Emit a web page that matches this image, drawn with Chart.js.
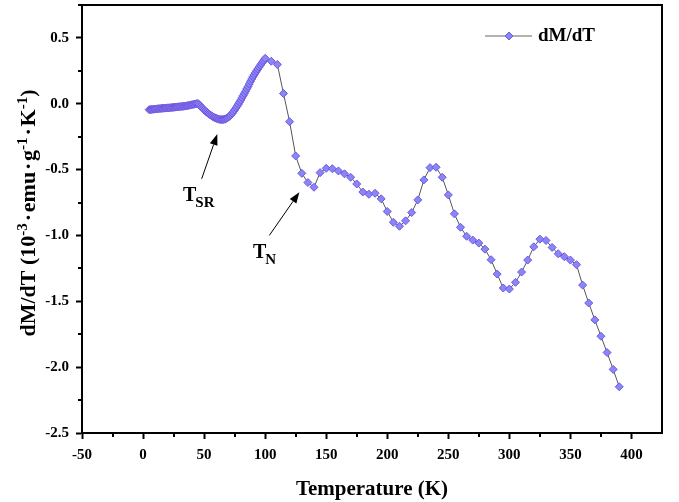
<!DOCTYPE html>
<html>
<head>
<meta charset="utf-8">
<script src="https://cdn.jsdelivr.net/npm/chart.js@4/dist/chart.umd.min.js"></script>
<style>
  html, body { margin: 0; padding: 0; background: #fff; }
  canvas { display: block; }
</style>
</head>
<body>
<canvas id="chart" width="679" height="502"></canvas>
<script>
// temperature (K)
const temps = [
  5, 6, 7, 8, 9, 10, 11, 12, 13, 14, 15, 16, 17, 18, 19, 20, 21, 22, 23, 24,
  25, 26, 27, 28, 29, 30, 31, 32, 33, 34, 35, 36, 37, 38, 39, 40, 41, 42, 43, 44,
  45, 46, 47, 48, 49, 50, 51, 52, 53, 54, 55, 56, 57, 58, 59, 60, 61, 62, 63, 64,
  65, 66, 67, 68, 69, 70, 71, 72, 73, 74, 75, 76, 77, 78, 79, 80, 81, 82, 83, 84,
  85, 86, 87, 88, 89, 90, 91, 92, 93, 94, 95, 96, 97, 98, 99,
  100, 105, 110, 115, 120, 125, 130, 135, 140, 145, 150, 155, 160, 165, 170, 175,
  180, 185, 190, 195, 200, 205, 210, 215, 220, 225, 230, 235, 240, 245, 250, 255,
  260, 265, 270, 275, 280, 285, 290, 295, 300, 305, 310, 315, 320, 325, 330, 335,
  340, 345, 350, 355, 360, 365, 370, 375, 380, 385, 390
];
// dM/dT (10^-3 emu g^-1 K^-1)
const dMdT = [
  -0.045, -0.044, -0.043, -0.042, -0.041, -0.040, -0.039, -0.038, -0.037, -0.036,
  -0.035, -0.034, -0.034, -0.033, -0.032, -0.031, -0.031, -0.030, -0.029, -0.028,
  -0.027, -0.026, -0.025, -0.024, -0.023, -0.022, -0.021, -0.020, -0.019, -0.018,
  -0.017, -0.015, -0.013, -0.011, -0.009, -0.007, -0.005, -0.003, -0.001, 0.001,
  0.002, -0.008, -0.018, -0.028, -0.037, -0.046, -0.055, -0.063, -0.071, -0.078,
  -0.085, -0.091, -0.097, -0.102, -0.107, -0.111, -0.114, -0.117, -0.119, -0.120,
  -0.120, -0.119, -0.117, -0.113, -0.108, -0.101, -0.093, -0.083, -0.072, -0.060,
  -0.047, -0.033, -0.019, -0.004, 0.012, 0.028, 0.045, 0.062, 0.079, 0.096,
  0.114, 0.131, 0.150, 0.170, 0.188, 0.205, 0.220, 0.235, 0.250, 0.264,
  0.278, 0.292, 0.305, 0.317, 0.330,
  0.345, 0.323, 0.298, 0.078, -0.136, -0.396, -0.528, -0.598, -0.634, -0.523,
  -0.490, -0.493, -0.510, -0.532, -0.558, -0.609, -0.670, -0.687, -0.680, -0.722,
  -0.818, -0.900, -0.930, -0.889, -0.826, -0.730, -0.578, -0.485, -0.482, -0.558,
  -0.692, -0.836, -0.938, -1.006, -1.035, -1.058, -1.104, -1.184, -1.293, -1.399,
  -1.407, -1.356, -1.278, -1.187, -1.086, -1.028, -1.038, -1.091, -1.139, -1.161,
  -1.187, -1.222, -1.377, -1.513, -1.641, -1.765, -1.889, -2.017, -2.149
];

const xTicks = [-50, 0, 50, 100, 150, 200, 250, 300, 350, 400];
const xMinor = [-25, 25, 75, 125, 175, 225, 275, 325, 375];
const yTicks = [-2.5, -2.0, -1.5, -1.0, -0.5, 0.0, 0.5];
const yMinor = [-2.25, -1.75, -1.25, -0.75, -0.25, 0.25, 0.75];

// annotation labels, in data units
const notes = [
  { main: 'T', sub: 'SR', at: [32.7, -0.735], from: [48.0, -0.570], to: [60.8, -0.230] },
  { main: 'T', sub: 'N', at: [90.0, -1.174], from: [103.4, -1.000], to: [128.0, -0.672] }
];

const SERIF = '"Liberation Serif", "Times New Roman", serif';
const FILL = '#8787fa';
const EDGE = '#7355dc';

const points = temps.map((t, i) => ({ x: t, y: dMdT[i] }));

function arrow(ctx, x1, y1, x2, y2) {
  const a = Math.atan2(y2 - y1, x2 - x1);
  const hl = 11, hw = 4;
  const bx = x2 - hl * Math.cos(a), by = y2 - hl * Math.sin(a);
  ctx.beginPath();
  ctx.moveTo(x1, y1);
  ctx.lineTo(bx, by);
  ctx.strokeStyle = '#000';
  ctx.lineWidth = 1;
  ctx.stroke();
  ctx.beginPath();
  ctx.moveTo(x2, y2);
  ctx.lineTo(bx + hw * Math.sin(a), by - hw * Math.cos(a));
  ctx.lineTo(bx - hw * Math.sin(a), by + hw * Math.cos(a));
  ctx.closePath();
  ctx.fillStyle = '#000';
  ctx.fill();
}

const extras = {
  id: 'extras',
  afterDraw(chart) {
    const ctx = chart.ctx;
    const { left, right, top, bottom } = chart.chartArea;
    const xs = chart.scales.x, ys = chart.scales.y;
    ctx.save();

    // frame
    ctx.strokeStyle = '#000';
    ctx.lineWidth = 2;
    ctx.strokeRect(left, top, right - left, bottom - top);

    // minor ticks
    ctx.beginPath();
    xMinor.forEach(v => {
      const px = Math.round(xs.getPixelForValue(v));
      ctx.moveTo(px, bottom); ctx.lineTo(px, bottom + 4);
    });
    yMinor.forEach(v => {
      const py = Math.round(ys.getPixelForValue(v));
      ctx.moveTo(left, py); ctx.lineTo(left - 4, py);
    });
    ctx.stroke();

    // x title
    ctx.fillStyle = '#000';
    ctx.font = 'bold 21px ' + SERIF;
    ctx.textAlign = 'center';
    ctx.textBaseline = 'alphabetic';
    ctx.fillText('Temperature (K)', (left + right) / 2, 495);

    // y title with superscripts; the middle dots get a wider slot
    const parts = [
      ['dM/dT (10', 0], ['-3', 1], ['\u00B7', 2], ['emu', 0], ['\u00B7', 2], ['g', 0],
      ['-1', 1], ['\u00B7', 2], ['K', 0], ['-1', 1], [')', 0]
    ];
    const big = 'bold 22px ' + SERIF, small = 'bold 15px ' + SERIF;
    const DOT = 11;
    const adv = p => {
      if (p[1] === 2) return DOT;
      ctx.font = p[1] ? small : big;
      return ctx.measureText(p[0]).width;
    };
    let total = 0;
    parts.forEach(p => { total += adv(p); });
    ctx.translate(35, 213);
    ctx.rotate(-Math.PI / 2);
    ctx.textAlign = 'left';
    let cx = -total / 2;
    parts.forEach(p => {
      const w = adv(p);
      if (p[1] === 2) {
        ctx.font = big;
        const dw = ctx.measureText(p[0]).width;
        ctx.fillText(p[0], cx + (w - dw) / 2, 0);
      } else {
        ctx.font = p[1] ? small : big;
        ctx.fillText(p[0], cx, p[1] ? -8 : 0);
      }
      cx += w;
    });
    ctx.setTransform(1, 0, 0, 1, 0, 0);

    // legend
    const ly = 36;
    ctx.beginPath();
    ctx.moveTo(485, ly); ctx.lineTo(532, ly);
    ctx.strokeStyle = '#666';
    ctx.lineWidth = 1;
    ctx.stroke();
    ctx.beginPath();
    ctx.moveTo(509, ly - 4); ctx.lineTo(513, ly); ctx.lineTo(509, ly + 4); ctx.lineTo(505, ly);
    ctx.closePath();
    ctx.fillStyle = FILL; ctx.fill();
    ctx.strokeStyle = EDGE; ctx.stroke();
    ctx.fillStyle = '#000';
    ctx.font = 'bold 19px ' + SERIF;
    ctx.textBaseline = 'middle';
    ctx.fillText('dM/dT', 538, ly);

    // annotations
    ctx.textBaseline = 'alphabetic';
    notes.forEach(n => {
      const tx = xs.getPixelForValue(n.at[0]), ty = ys.getPixelForValue(n.at[1]);
      ctx.font = 'bold 20px ' + SERIF;
      ctx.fillText(n.main, tx, ty);
      const w = ctx.measureText(n.main).width;
      ctx.font = 'bold 15px ' + SERIF;
      ctx.fillText(n.sub, tx + w - 1, ty + 6);
      arrow(ctx,
        xs.getPixelForValue(n.from[0]), ys.getPixelForValue(n.from[1]),
        xs.getPixelForValue(n.to[0]), ys.getPixelForValue(n.to[1]));
    });
    ctx.restore();
  }
};

new Chart(document.getElementById('chart').getContext('2d'), {
  type: 'line',
  data: {
    datasets: [{
      label: 'dM/dT',
      data: points,
      borderColor: '#555',
      borderWidth: 1,
      pointStyle: 'rectRot',
      pointRadius: 4,
      pointBackgroundColor: FILL,
      pointBorderColor: EDGE,
      pointBorderWidth: 1,
      tension: 0,
    }],
  },
  options: {
    responsive: false,
    animation: false,
    devicePixelRatio: 1,
    layout: { padding: { left: 0, top: 4, right: 17, bottom: 0 } },
    plugins: { legend: { display: false }, tooltip: { enabled: false } },
    scales: {
      x: {
        type: 'linear',
        min: -50,
        max: 425,
        afterBuildTicks: s => { s.ticks = xTicks.map(v => ({ value: v })); },
        afterFit: s => { s.height = 69; s.paddingLeft = 0; s.paddingRight = 0; },
        border: { display: true, color: '#000', width: 2 },
        grid: { drawOnChartArea: false, drawTicks: true, tickLength: 6, tickWidth: 2, tickColor: '#000' },
        ticks: {
          padding: 7,
          color: '#000',
          font: { family: SERIF, size: 15, weight: 'bold' },
          callback: v => String(v),
        },
        title: { display: false },
      },
      y: {
        type: 'linear',
        min: -2.5,
        max: 0.75,
        afterBuildTicks: s => { s.ticks = yTicks.map(v => ({ value: v })); },
        afterFit: s => { s.width = 82; s.paddingTop = 0; s.paddingBottom = 0; },
        border: { display: true, color: '#000', width: 2 },
        grid: { drawOnChartArea: false, drawTicks: true, tickLength: 6, tickWidth: 2, tickColor: '#000' },
        ticks: {
          padding: 7,
          color: '#000',
          font: { family: SERIF, size: 15, weight: 'bold' },
          callback: v => Number(v).toFixed(1),
        },
        title: { display: false },
      },
    },
  },
  plugins: [extras],
});
</script>
</body>
</html>
